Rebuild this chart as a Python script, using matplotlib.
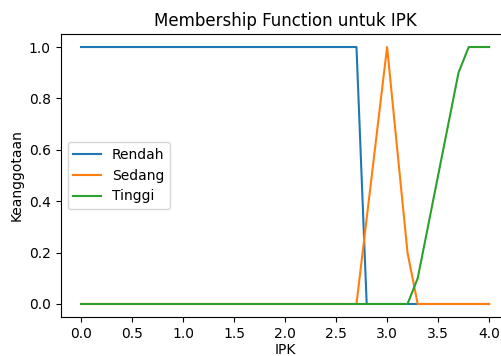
import numpy as np
import matplotlib
matplotlib.use("Agg")
import matplotlib.pyplot as plt

# --- DATA ---
ipk = [round(0.1 * i, 1) for i in range(41)]
rendah = [1.0] * 28 + [0.0] * 13          # 1 up to 2.7, 0 from 2.8
sedang = [0.0] * 28 + [0.333, 0.667, 1.0, 0.6, 0.2] + [0.0] * 8
tinggi = [0.0] * 33 + [0.1, 0.3, 0.5, 0.7, 0.9, 1.0, 1.0, 1.0]

# --- PLOTTING ---
fig, ax = plt.subplots(figsize=(5.02, 3.56), dpi=100)
ax.plot(ipk, rendah, label="Rendah")
ax.plot(ipk, sedang, label="Sedang")
ax.plot(ipk, tinggi, label="Tinggi")
ax.set_title("Membership Function untuk IPK")
ax.set_xlabel("IPK", labelpad=2)
ax.set_ylabel("Keanggotaan")
ax.legend(loc="center left")
# the reference is cropped on the right, so the axes run past the edge
fig.subplots_adjust(left=0.1207, right=1.015, top=0.904, bottom=0.11)

fig.savefig("out.png", dpi=100)
